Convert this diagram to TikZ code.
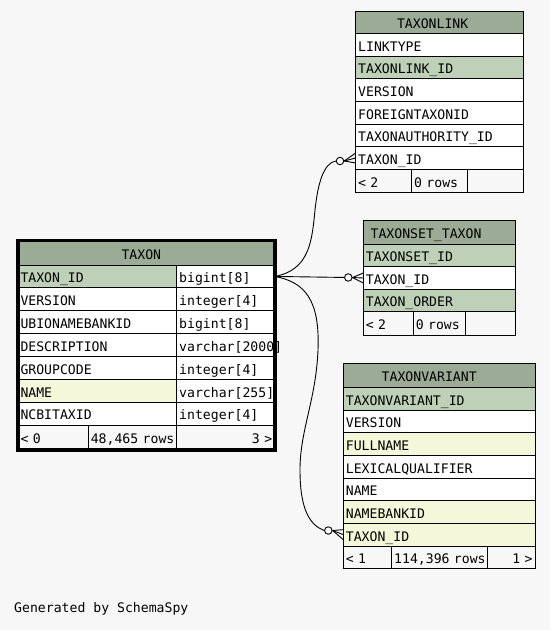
\documentclass[tikz,border=0pt]{standalone}
\usepackage{fontspec}
\setmonofont{DejaVu Sans Mono}
\usetikzlibrary{calc}
\definecolor{pagebg}{HTML}{F7F7F7}
\definecolor{headbg}{HTML}{9BAB96}
\definecolor{keybg}{HTML}{BED1B8}
\definecolor{indexbg}{HTML}{F4F7DA}
\tikzstyle{cell} = [draw, line width=0.9pt, anchor=north west, outer sep=0pt, inner xsep=2.5pt, inner ysep=0pt, text height=14pt, text depth=1.2pt, align=left, font=\ttfamily\fontsize{13.15}{15}\selectfont]
\tikzstyle{head} = [cell, fill=headbg, align=center]
\tikzstyle{foot} = [cell, fill=pagebg]
\tikzstyle{optend} = [circle, draw, line width=0.9pt, fill=pagebg, minimum size=7.5pt, inner sep=0pt]
\tikzstyle{link} = [line width=0.9pt]

\begin{document}
\begin{tikzpicture}[x=1pt,y=-1pt]
\fill[pagebg] (0,0) rectangle (550,630);

% TAXONLINK
\node[head, text width=163pt, minimum height=22pt] (lnkh) at (355.7,11.3) {\hspace*{-14pt}TAXONLINK};
\foreach \cname/\cfill [count=\i] in {LINKTYPE/white, TAXONLINK\_ID/keybg, VERSION/white, FOREIGNTAXONID/white, TAXONAUTHORITY\_ID/white, TAXON\_ID/white} {
    \node[cell, fill=\cfill, text width=163pt, minimum height=22.67pt] (lnk\i) at (355.7,{33.3+22.67*(\i-1)}) {\cname};
}
\node[foot, text width=51pt, minimum height=23.2pt] (lnkf1) at (355.7,169.3) {< 2};
\node[foot, text width=51pt, minimum height=23.2pt] (lnkf2) at (lnkf1.north east) {0~rows};
\node[foot, text width=50.8pt, minimum height=23.2pt] (lnkf3) at (lnkf2.north east) {};

% TAXONSET_TAXON
\node[head, text width=147.3pt, minimum height=24pt] (seth) at (363.4,220.3) {\hspace*{-27pt}TAXONSET\_TAXON};
\foreach \cname/\cfill [count=\i] in {TAXONSET\_ID/keybg, TAXON\_ID/white, TAXON\_ORDER/keybg} {
    \node[cell, fill=\cfill, text width=147.3pt, minimum height=22.47pt] (set\i) at (363.4,{244.3+22.47*(\i-1)}) {\cname};
}
\node[foot, text width=44.9pt, minimum height=23.3pt] (setf1) at (363.4,311.7) {< 2};
\node[foot, text width=47.4pt, minimum height=23.3pt] (setf2) at (setf1.north east) {0~rows};
\node[foot, text width=45pt, minimum height=23.3pt] (setf3) at (setf2.north east) {};

% TAXON
\node[head, text width=251.7pt, minimum height=24.7pt] (taxh) at (18,240.3) {\hspace*{-10pt}TAXON};
\foreach \cname/\ctype/\cfill [count=\i] in {TAXON\_ID/bigint[8]/keybg, VERSION/integer[4]/white, UBIONAMEBANKID/bigint[8]/white, DESCRIPTION/varchar[2000]/white, GROUPCODE/integer[4]/white, NAME/varchar[255]/indexbg, NCBITAXID/integer[4]/white} {
    \node[cell, fill=\cfill, text width=153.7pt, minimum height=22.86pt] (tax\i) at (18,{265+22.86*(\i-1)}) {\cname};
    \node[cell, fill=white, text width=93pt, minimum height=22.86pt] (taxt\i) at (tax\i.north east) {\ctype};
}
\node[foot, text width=65.3pt, minimum height=24.7pt] (taxf1) at (18,425) {< 0};
\node[foot, text width=83.4pt, minimum height=24.7pt] (taxf2) at (taxf1.north east) {48,465~rows};
\node[foot, text width=93pt, minimum height=24.7pt, align=right] (taxf3) at (taxf2.north east) {3 >};
\draw[line width=3.6pt] (taxh.north west) rectangle (taxf3.south east);

% TAXONVARIANT
\node[head, text width=186.6pt, minimum height=24pt] (varh) at (343.4,363.3) {\hspace*{-20pt}TAXONVARIANT};
\foreach \cname/\cfill [count=\i] in {TAXONVARIANT\_ID/keybg, VERSION/white, FULLNAME/indexbg, LEXICALQUALIFIER/white, NAME/white, NAMEBANKID/indexbg, TAXON\_ID/indexbg} {
    \node[cell, fill=\cfill, text width=186.6pt, minimum height=22.67pt] (var\i) at (343.4,{387.3+22.67*(\i-1)}) {\cname};
}
\node[foot, text width=43.3pt, minimum height=22.3pt] (varf1) at (343.4,546) {< 1};
\node[foot, text width=90.6pt, minimum height=22.3pt] (varf2) at (varf1.north east) {114,396~rows};
\node[foot, text width=42.7pt, minimum height=22.3pt, align=right] (varf3) at (varf2.north east) {1 >};

% relations
\draw[link] (taxt1.east) -- (348.3,277.5) node[optend] (o2) {};
\node[optend] (o1) at (340,161) {};
\node[optend] (o3) at (328.3,530.5) {};
\draw[link] (taxt1.east) .. controls (310,270) and (312,240) .. (315,210) .. controls (318,182) and (324,163) .. (o1.west);
\draw[link] (taxt1.east) .. controls (305,282) and (320,300) .. (318,350) .. controls (316,400) and (300,430) .. (300,470) .. controls (300,510) and (310,525) .. (o3.west);
\foreach \src/\tgt in {o1/lnk6, o2/set2, o3/var7} {
    \draw[link] (\src.east) -- ([yshift=5pt]\tgt.west);
    \draw[link] (\src.east) -- (\tgt.west);
    \draw[link] (\src.east) -- ([yshift=-5pt]\tgt.west);
}

\node[font=\ttfamily\fontsize{13.15}{15}\selectfont, anchor=base west, inner sep=0pt] (gen) at (14,612.7) {Generated by SchemaSpy};
\end{tikzpicture}
\end{document}
